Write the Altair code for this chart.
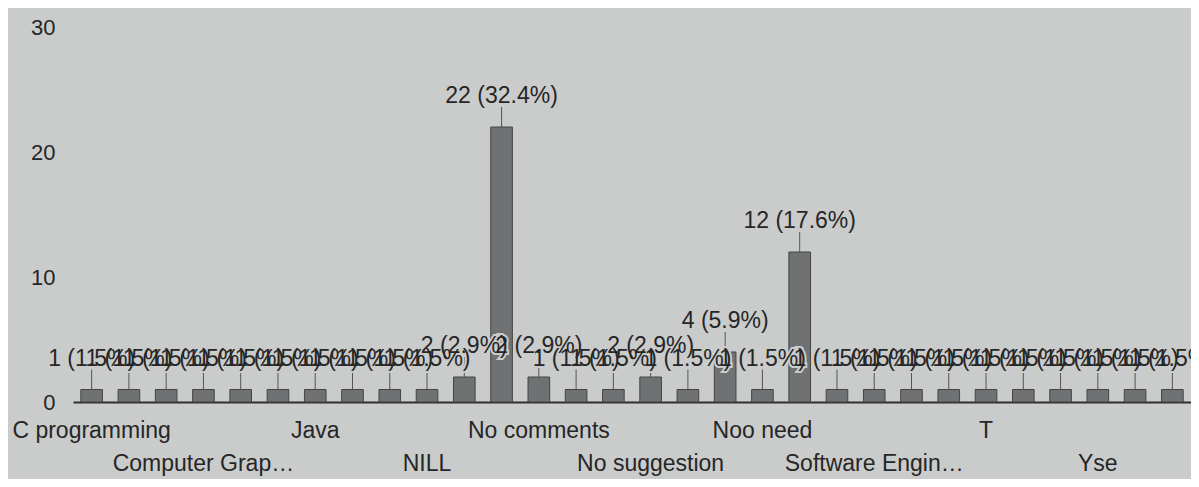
import altair as alt
import pandas as pd

# ---- data ----
categories = [
    "C programming", "C++", "Cloud computing", "Computer Graphics", "Data structures",
    "Good", "Java", "Machine learning", "NA", "NILL",
    "Nil", "No", "No comments", "No comments.", "No need",
    "No suggestion", "No suggestions", "None", "Noo need", "Nothing",
    "Python", "Software Engineering", "Statistics", "Super", "T",
    "Web development", "Yes", "Yse", "Yse.", "good",
]
values = [
    1, 1, 1, 1, 1, 1, 1, 1, 1, 1,
    2, 22, 2, 1, 1, 2, 1, 4, 1, 12,
    1, 1, 1, 1, 1, 1, 1, 1, 1, 1,
]
axis_labels = [
    "C programming", "", "", "Computer Grap\u2026", "", "", "Java", "", "", "NILL",
    "", "", "No comments", "", "", "No suggestion", "", "", "Noo need", "",
    "", "Software Engin\u2026", "", "", "T", "", "", "Yse", "", "",
]
label_rows = [
    0, -1, -1, 1, -1, -1, 0, -1, -1, 1,
    -1, -1, 0, -1, -1, 1, -1, -1, 0, -1,
    -1, 1, -1, -1, 0, -1, -1, 1, -1, -1,
]
y_ticks = [0, 10, 20, 30]

total = sum(values)
pct_labels = [f"{v} ({v / total * 100:.1f}%)" for v in values]

df = pd.DataFrame({
    "category": categories,
    "value": values,
    "pct_label": pct_labels,
    "axis_label": axis_labels,
    "row": label_rows,
})

BG = "#cacccc"
TEXT = "#262626"
FONT = "Liberation Sans"
FS = 23
W, H = 1118, 375

x = alt.X(
    "category:N", sort=categories, title=None,
    scale=alt.Scale(paddingInner=0.42, paddingOuter=0.21),
    axis=alt.Axis(labels=False, ticks=False, domain=True,
                  domainColor="#2e2e2e", domainWidth=2),
)
y = alt.Y(
    "value:Q", title=None,
    scale=alt.Scale(domain=[0, 30], nice=False),
    axis=alt.Axis(values=y_ticks, grid=False, domain=False, ticks=False,
                  labelFontSize=22, labelPadding=18, labelColor=TEXT,
                  labelFont=FONT),
)
xs = alt.X("category:N", sort=categories)

base = alt.Chart(df)

bars = base.mark_bar(color="#6f7172", stroke="#444444", strokeWidth=1).encode(x=x, y=y)

leaders = base.mark_rule(color="#555555", strokeWidth=1, y2Offset=-20).encode(
    x=xs, y="value:Q", y2="value:Q"
)

halo = base.mark_text(
    dy=-31, baseline="middle", fontSize=FS, font=FONT,
    fill=BG, stroke=BG, strokeWidth=4,
).encode(x=xs, y="value:Q", text="pct_label:N")

labels = base.mark_text(
    dy=-31, baseline="middle", fontSize=FS, font=FONT, color=TEXT,
).encode(x=xs, y="value:Q", text="pct_label:N")

row0 = base.transform_filter(alt.datum.row == 0).mark_text(
    baseline="middle", fontSize=FS, font=FONT, color=TEXT,
).encode(x=xs, y=alt.value(H + 29), text="axis_label:N")

row1 = base.transform_filter(alt.datum.row == 1).mark_text(
    baseline="middle", fontSize=FS, font=FONT, color=TEXT,
).encode(x=xs, y=alt.value(H + 62), text="axis_label:N")

chart = alt.layer(bars, leaders, halo, labels, row0, row1).properties(
    width=W, height=H,
    padding={"left": 65, "top": 19, "right": 0, "bottom": 77},
    autosize=alt.AutoSizeParams(type="none"),
    background=BG,
).configure_view(stroke=None)

chart.save("out.html", embed_options={"renderer": "svg", "actions": False})
